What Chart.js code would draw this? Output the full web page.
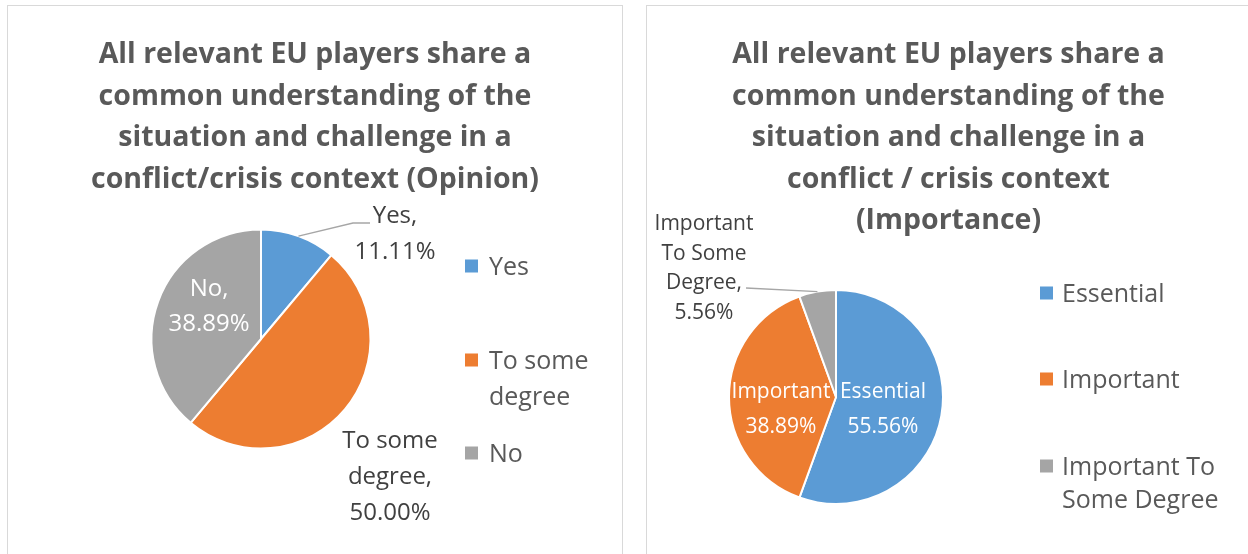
<!DOCTYPE html>
<html>
<head>
<meta charset="utf-8">
<title>EU players - common understanding</title>
<script src="https://cdn.jsdelivr.net/npm/chart.js@4.4.1/dist/chart.umd.min.js"></script>
<style>
  body { margin: 0; background: #fff; width: 1248px; height: 554px; overflow: hidden; position: relative; }
  .panel { position: absolute; top: 5px; height: 620px; border: 1.5px solid #d9d9d9; box-sizing: border-box; }
  #panel-opinion { left: 7px; width: 616px; }
  #panel-importance { left: 646px; width: 604px; }
  canvas { position: absolute; }
  #opinionChart { left: 9px; top: 7px; }
  #importanceChart { left: 649px; top: 7px; }
</style>
</head>
<body>
<div class="panel" id="panel-opinion"></div>
<div class="panel" id="panel-importance"></div>
<canvas id="opinionChart" width="612" height="547"></canvas>
<canvas id="importanceChart" width="599" height="547"></canvas>
<script>
// survey answers, in percent
const opinionLabels = ['Yes', 'To some degree', 'No'];
const opinionValues = [11.11, 50.00, 38.89];
const opinionTitle = [
    'All relevant EU players share a',
    'common understanding of the',
    'situation and challenge in a',
    'conflict/crisis context (Opinion)'
];

const importanceLabels = ['Essential', 'Important', 'Important To Some Degree'];
const importanceValues = [55.56, 38.89, 5.56];
const importanceTitle = [
    'All relevant EU players share a',
    'common understanding of the',
    'situation and challenge in a',
    'conflict / crisis context',
    '(Importance)'
];

const sliceColors = ['#5B9BD5', '#ED7D31', '#A5A5A5'];
const FONT = '"Open Sans", "Liberation Sans", sans-serif';

function wrapWords(ctx, text, maxWidth) {
    const words = text.split(' ');
    const lines = [];
    let line = '';
    words.forEach(w => {
        const test = line ? line + ' ' + w : w;
        if (line && ctx.measureText(test).width > maxWidth) {
            lines.push(line);
            line = w;
        } else {
            line = test;
        }
    });
    lines.push(line);
    return lines;
}

// title, legend and data labels are drawn by hand
const panelText = {
    id: 'panelText',
    afterDraw(chart, args, opts) {
        const ctx = chart.ctx;
        const labels = chart.data.labels;
        const values = chart.data.datasets[0].data;
        const colors = chart.data.datasets[0].backgroundColor;
        ctx.save();

        // title
        ctx.fillStyle = '#595959';
        ctx.font = 'bold ' + opts.titleSize + 'px ' + FONT;
        ctx.textAlign = 'center';
        ctx.textBaseline = 'alphabetic';
        opts.title.forEach((line, i) => {
            ctx.fillText(line, chart.width / 2, opts.titleTop + i * opts.titleLineHeight);
        });

        // legend
        const lg = opts.legend;
        ctx.font = lg.size + 'px ' + FONT;
        ctx.textAlign = 'left';
        labels.forEach((label, i) => {
            const base = lg.ys[i];
            ctx.fillStyle = colors[i];
            ctx.fillRect(lg.boxX, base - lg.size * 0.36 - lg.box / 2, lg.box, lg.box);
            ctx.fillStyle = '#595959';
            wrapWords(ctx, label, lg.wrap).forEach((line, j) => {
                ctx.fillText(line, lg.textX, base + j * lg.lineHeight);
            });
        });

        // data labels
        const meta = chart.getDatasetMeta(0);
        meta.data.forEach((arc, i) => {
            const p = arc.getProps(['x', 'y', 'startAngle', 'endAngle', 'outerRadius'], true);
            const spot = opts.spots[i];
            ctx.font = opts.labelSize + 'px ' + FONT;
            ctx.textAlign = 'center';

            if (spot.leader) {
                const mid = (p.startAngle + p.endAngle) / 2;
                ctx.strokeStyle = '#A6A6A6';
                ctx.lineWidth = 1.3;
                ctx.beginPath();
                ctx.moveTo(p.x + Math.cos(mid) * p.outerRadius, p.y + Math.sin(mid) * p.outerRadius);
                spot.leader.forEach(pt => ctx.lineTo(p.x + pt[0], p.y + pt[1]));
                ctx.stroke();
            }

            const name = labels[i] + (spot.comma ? ',' : '');
            const lines = wrapWords(ctx, name, spot.wrap);
            lines.push(values[i].toFixed(2) + '%');
            ctx.fillStyle = spot.inside ? '#ffffff' : '#404040';
            lines.forEach((line, j) => {
                ctx.fillText(line, p.x + spot.dx, p.y + spot.dy + j * spot.lineHeight);
            });
        });

        ctx.restore();
    }
};

function makePie(canvasId, labels, values, pie, textOpts) {
    const canvas = document.getElementById(canvasId);
    return new Chart(canvas, {
        type: 'pie',
        data: {
            labels: labels,
            datasets: [{
                data: values,
                backgroundColor: sliceColors,
                borderColor: '#ffffff',
                borderWidth: 2
            }]
        },
        options: {
            responsive: false,
            animation: false,
            events: [],
            radius: pie.r,
            layout: {
                padding: {
                    left: pie.cx - pie.r,
                    right: canvas.width - pie.cx - pie.r,
                    top: pie.cy - pie.r,
                    bottom: canvas.height - pie.cy - pie.r
                }
            },
            plugins: {
                legend: { display: false },
                tooltip: { enabled: false },
                panelText: textOpts
            }
        },
        plugins: [panelText]
    });
}

makePie('opinionChart', opinionLabels, opinionValues, { cx: 252, cy: 332, r: 109.5 }, {
    title: opinionTitle,
    titleSize: 28.5,
    titleTop: 56,
    titleLineHeight: 41.5,
    labelSize: 24,
    legend: { boxX: 456, textX: 480, box: 13, size: 25, lineHeight: 36, wrap: 125, ys: [268, 362, 455] },
    spots: [
        { dx: 134, dy: -116, lineHeight: 36, wrap: 100, comma: true, leader: [[92, -116], [109, -116]] },
        { dx: 129, dy: 109, lineHeight: 36, wrap: 100, comma: true },
        { dx: -52, dy: -43, lineHeight: 35, wrap: 100, comma: true, inside: true }
    ]
});

makePie('importanceChart', importanceLabels, importanceValues, { cx: 187, cy: 390, r: 107 }, {
    title: importanceTitle,
    titleSize: 28.5,
    titleTop: 56,
    titleLineHeight: 41.5,
    labelSize: 21,
    legend: { boxX: 391, textX: 413, box: 13, size: 25, lineHeight: 33, wrap: 165, ys: [295, 381, 468] },
    spots: [
        { dx: 47, dy: 1, lineHeight: 35, wrap: 120, comma: false, inside: true },
        { dx: -55, dy: 1, lineHeight: 35, wrap: 120, comma: false, inside: true },
        { dx: -132, dy: -167, lineHeight: 29.5, wrap: 100, comma: true, leader: [[-90, -109]] }
    ]
});
</script>
</body>
</html>
